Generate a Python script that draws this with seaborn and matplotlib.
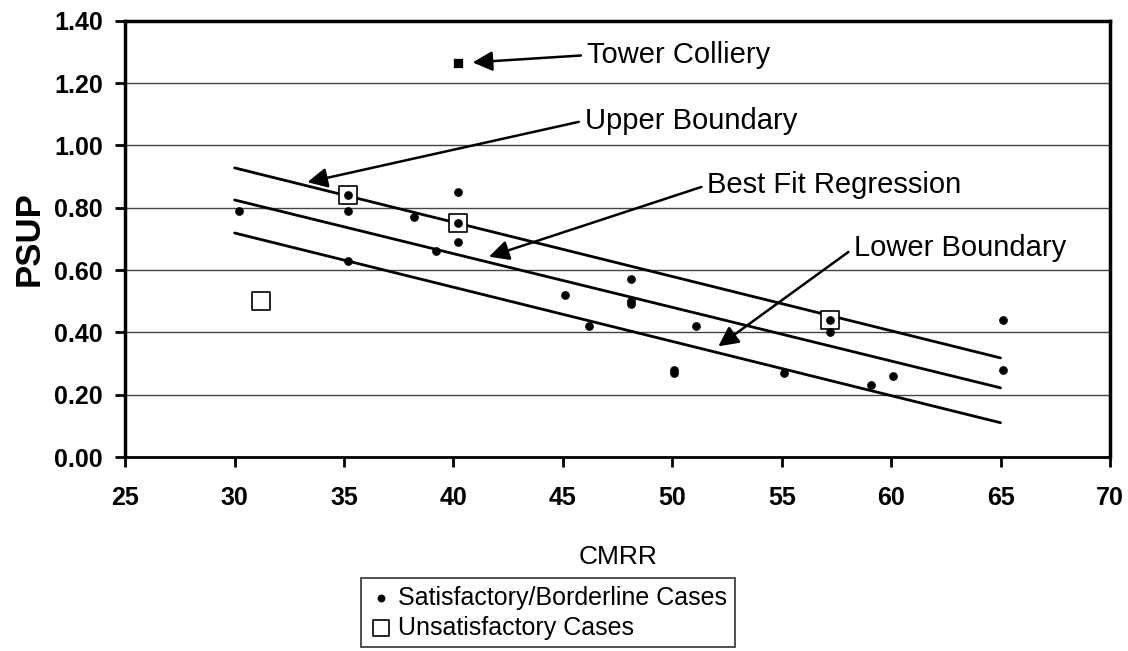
import seaborn as sns
import matplotlib.pyplot as plt
import pandas as pd

# Satisfactory / borderline cases
sat_cmrr = [30.2, 35.2, 35.2, 35.2, 38.2, 39.2, 40.2, 40.2, 40.2, 45.1, 46.2, 48.1, 48.1, 48.1,
            50.1, 50.1, 51.1, 55.1, 57.2, 57.2, 59.1, 60.1, 65.1, 65.1]
sat_psup = [0.79, 0.84, 0.79, 0.63, 0.77, 0.66, 0.85, 0.75, 0.69, 0.52, 0.42, 0.57, 0.50, 0.49,
            0.28, 0.27, 0.42, 0.27, 0.44, 0.40, 0.23, 0.26, 0.44, 0.28]

# Unsatisfactory cases
unsat_cmrr = [31.2, 35.2, 40.2, 57.2]
unsat_psup = [0.50, 0.84, 0.75, 0.44]

# Tower Colliery
tower_cmrr = [40.2]
tower_psup = [1.266]

# Boundary / regression lines (end points)
line_x = [30, 65]
upper_y = [0.928, 0.318]
fit_y = [0.825, 0.222]
lower_y = [0.719, 0.110]

x_ticks = [25, 30, 35, 40, 45, 50, 55, 60, 65, 70]
y_ticks = [0.0, 0.2, 0.4, 0.6, 0.8, 1.0, 1.2, 1.4]

sns.set_style('white')
plt.rcParams['font.family'] = ['Liberation Sans', 'DejaVu Sans']
plt.rcParams['text.color'] = 'black'

fig = plt.figure(figsize=(11.28, 6.51), dpi=100)
ax = fig.add_axes([0.111, 0.298, 0.873, 0.670])

sat = pd.DataFrame({'CMRR': sat_cmrr, 'PSUP': sat_psup})
unsat = pd.DataFrame({'CMRR': unsat_cmrr, 'PSUP': unsat_psup})

for y in y_ticks:
    ax.axhline(y, color='#444444', lw=1.0, zorder=0)

for ly in [upper_y, fit_y, lower_y]:
    sns.lineplot(x=line_x, y=ly, color='black', lw=2, ax=ax)

sns.scatterplot(data=unsat, x='CMRR', y='PSUP', marker='s', s=160, facecolor='white',
                edgecolor='black', linewidth=1.2, ax=ax, zorder=3,
                label='Unsatisfactory Cases')
sns.scatterplot(data=sat, x='CMRR', y='PSUP', color='black', s=33, edgecolor='black',
                ax=ax, zorder=4, label='Satisfactory/Borderline Cases')
sns.scatterplot(x=tower_cmrr, y=tower_psup, marker='s', color='black', s=42, ax=ax, zorder=4)

arrow = dict(arrowstyle='-|>', color='black', lw=1.8, mutation_scale=30, relpos=(0, 0.5))
ax.annotate('Tower Colliery', xy=(40.75, 1.266), xytext=(46.1, 1.29), fontsize=21,
            ha='left', va='center', arrowprops=arrow)
ax.annotate('Upper Boundary', xy=(33.2, 0.88), xytext=(46.0, 1.08), fontsize=21,
            ha='left', va='center', arrowprops=arrow)
ax.annotate('Best Fit Regression', xy=(41.5, 0.64), xytext=(51.6, 0.873), fontsize=21,
            ha='left', va='center', arrowprops=arrow)
ax.annotate('Lower Boundary', xy=(52.0, 0.35), xytext=(58.3, 0.671), fontsize=21,
            ha='left', va='center', arrowprops=arrow)

ax.set_xlim(25, 70)
ax.set_ylim(0, 1.4)
ax.set_xticks(x_ticks)
ax.set_yticks(y_ticks)
ax.set_yticklabels([f'{v:.2f}' for v in y_ticks])
ax.tick_params(axis='both', labelsize=18, direction='out', length=7, width=2,
               colors='black', bottom=True, left=True)
ax.tick_params(axis='y', pad=9)
ax.tick_params(axis='x', pad=14)
for lab in ax.get_xticklabels() + ax.get_yticklabels():
    lab.set_fontweight('bold')
ax.set_xlabel('CMRR', fontsize=19, labelpad=25, color='black')
ax.set_ylabel('PSUP', fontsize=25, fontweight='bold', labelpad=6, color='black')
for side in ['left', 'right', 'top']:
    ax.spines[side].set_linewidth(2.5)
    ax.spines[side].set_color('black')
ax.spines['bottom'].set_linewidth(2)
ax.spines['bottom'].set_color('black')

handles, labels = ax.get_legend_handles_labels()
ax.get_legend().remove()
h = [handles[labels.index('Satisfactory/Borderline Cases')], handles[labels.index('Unsatisfactory Cases')]]
leg = fig.legend(h, ['Satisfactory/Borderline Cases', 'Unsatisfactory Cases'],
                 loc='upper left', bbox_to_anchor=(0.32, 0.112), borderaxespad=0,
                 fontsize=18, frameon=True, fancybox=False, edgecolor='black',
                 handletextpad=0.2, handlelength=1.0, borderpad=0.3, labelspacing=0.25,
                 markerscale=0.9)
leg.get_frame().set_linewidth(1.2)

fig.savefig('out.png', dpi=100)
